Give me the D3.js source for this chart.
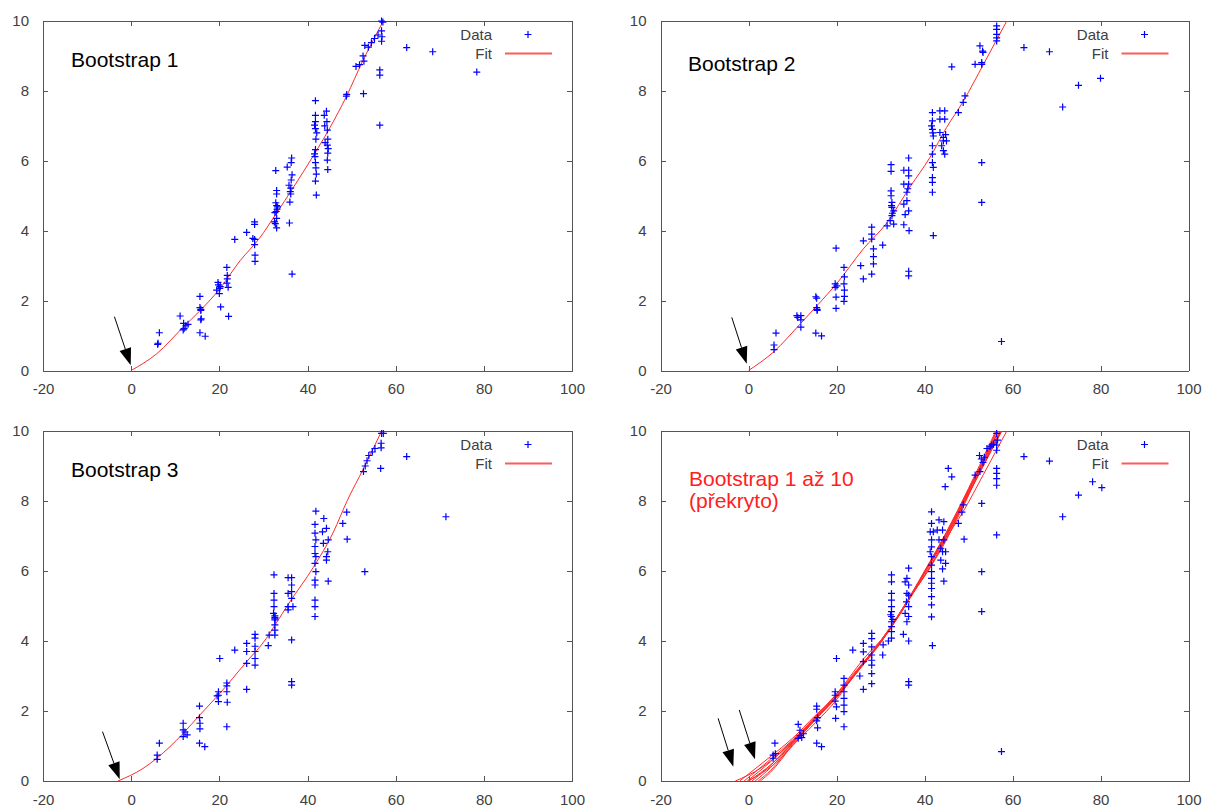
<!DOCTYPE html>
<html>
<head>
  <meta charset="utf-8">
  <title>Bootstrap fits</title>
  <script src="https://d3js.org/d3.v7.min.js"></script>
  <style>
    body { margin: 0; background: #fff; font-family: "Liberation Sans", Arial, sans-serif; }
    .tick text { font-size: 15px; font-family: "Liberation Sans", Arial, sans-serif; }
    .tick line, .domain { stroke: #555; shape-rendering: crispEdges; }
    .legend text { font-size: 15px; }
  </style>
</head>
<body>
  <script>
    // Axis ticks
    var xTicks = [-20, 0, 20, 40, 60, 80, 100];
    var yTicks = [0, 2, 4, 6, 8, 10];

    // Data points of each bootstrap sample [x, y]
    var pts1 = [
      [6.0,0.75],[6.1,0.78],[6.4,1.08],
      [11.1,1.56],[11.9,1.35],[12.4,1.28],[12.9,1.32],[12.0,1.2],[11.8,1.16],
      [15.6,2.12],[15.6,1.8],[15.8,1.75],[15.8,1.72],[15.8,1.45],[15.9,1.48],[15.6,1.08],[16.8,0.98],
      [19.4,2.3],[19.8,2.45],[20.0,2.2],[20.2,2.4],[20.3,1.82],[19.7,2.52],[20.1,2.35],
      [21.7,2.95],[21.8,2.62],[21.7,2.5],[22.0,2.38],[22.1,1.55],[21.8,2.72],
      [23.5,3.75],[26.2,3.95],[28.0,4.25],[28.0,4.18],[28.0,3.75],[28.0,3.6],[28.1,3.3],[28.1,3.12],[27.6,3.78],
      [32.8,5.72],[33.0,5.15],[33.0,5.05],[32.8,4.8],[33.0,4.72],[33.1,4.62],[32.9,4.55],[33.0,4.35],[32.7,4.2],[33.0,4.08],[32.5,4.25],[32.6,4.52],[33.2,4.68],
      [35.4,5.82],[36.4,6.08],[36.3,5.95],[36.3,5.45],[36.2,5.22],[36.1,5.12],[36.0,4.82],[35.9,4.22],[36.5,2.76],[36.2,5.05],[36.5,5.6],[35.8,5.3],
      [41.8,7.72],[41.8,7.12],[41.6,7.02],[41.8,6.92],[41.9,6.62],[41.8,6.32],[41.7,6.12],[41.8,5.95],[41.9,5.8],[42.0,5.62],[41.8,5.42],[42.0,5.02],[42.1,6.8],[41.6,6.2],[41.8,7.3],
      [44.3,7.42],[44.4,7.12],[44.5,6.88],[44.6,6.62],[44.5,6.45],[44.6,6.22],[44.5,6.02],[44.6,5.75],[43.8,7.3],[44.0,6.52],[44.7,6.35],[43.9,7.0],
      [48.9,7.9],[48.8,7.85],
      [52.6,9.0],[51.0,8.7],[52.7,7.92],[53.0,9.3],[53.8,9.25],[54.5,9.38],[55.2,9.5],[56.0,9.6],[51.8,8.75],[52.8,8.85],
      [56.8,10.0],[57.1,9.97],[56.8,9.72],[56.9,9.55],[56.8,9.42],[56.4,8.6],[56.4,8.45],[56.4,7.02],
      [62.5,9.24],[68.4,9.12],[78.4,8.54]
    ];
    var pts2 = [
      [6.25,1.07],[5.8,0.73],[5.8,0.6],
      [11.0,1.57],[11.9,1.57],[11.9,1.45],[11.9,1.24],[11.2,1.52],
      [15.3,2.11],[15.5,2.07],[15.5,1.8],[15.6,1.75],[15.3,1.07],[16.6,0.99],[15.6,1.72],
      [19.9,3.5],[19.7,2.48],[19.7,2.38],[19.9,2.1],[19.9,1.78],[20.1,2.42],
      [21.7,2.95],[21.8,2.68],[21.7,2.48],[21.8,2.3],[21.8,2.12],[21.7,1.98],
      [25.5,3.0],[26.1,2.62],[26.1,3.71],[28.0,4.1],[28.0,3.76],[28.4,3.48],[28.4,3.26],[28.4,3.05],[28.0,2.76],[30.5,3.59],[28.0,3.9],
      [32.4,5.89],[32.4,5.7],[32.4,5.14],[32.4,5.0],[32.6,4.81],[32.6,4.67],[33.0,4.57],[32.6,4.43],[32.2,4.29],[33.0,4.19],[31.5,4.14],[32.5,4.72],[32.7,4.5],
      [36.4,6.08],[35.3,5.73],[36.4,5.73],[36.4,5.57],[35.3,5.33],[36.4,5.33],[36.0,5.1],[36.0,4.86],[35.3,4.76],[36.4,4.57],[35.6,4.46],[35.3,4.17],[36.5,4.0],[36.4,2.84],[36.4,2.71],[36.2,5.2],
      [41.8,7.38],[41.8,7.14],[41.8,6.9],[42.0,6.71],[41.8,6.43],[41.8,6.19],[41.8,5.95],[42.0,5.81],[41.8,5.52],[41.8,5.38],[41.8,5.1],[42.0,3.86],[41.6,7.0],[41.9,6.8],
      [43.5,7.43],[44.6,7.43],[43.5,7.19],[44.6,7.19],[43.5,6.81],[44.3,6.67],[44.3,6.57],[45.0,6.57],[44.3,6.29],[44.6,6.19],[43.9,6.43],[44.8,6.75],
      [47.7,7.38],[48.8,7.67],[49.2,7.86],[46.2,8.69],
      [51.5,8.76],[53.0,8.81],[53.0,8.76],[52.6,9.29],[53.2,9.14],[53.3,9.1],
      [53.0,5.95],[53.0,4.81],
      [56.4,9.86],[56.4,9.76],[56.4,9.62],[56.4,9.52],[56.4,9.43],
      [57.5,0.83],
      [62.6,9.24],[68.4,9.12],[71.4,7.54],[75.0,8.16],[80.0,8.36]
    ];
    var pts3 = [
      [6.4,1.08],[5.9,0.74],[5.9,0.62],
      [11.8,1.65],[11.8,1.46],[12.7,1.32],[11.8,1.27],[12.2,1.4],
      [15.5,2.14],[15.5,1.81],[15.6,1.65],[15.6,1.49],[15.5,1.08],[16.7,0.98],
      [20.1,3.5],[19.8,2.55],[19.8,2.45],[19.8,2.27],[19.5,2.43],[21.7,2.8],[21.7,2.72],[21.7,2.55],[21.8,2.25],[21.7,1.55],
      [23.5,3.74],[26.2,3.93],[26.2,3.7],[26.2,3.36],[26.2,2.62],[28.1,4.19],[28.1,4.08],[28.1,3.85],[28.1,3.7],[28.1,3.5],[28.1,3.31],[31.1,3.87],
      [32.4,5.89],[32.4,5.36],[32.4,5.17],[32.4,4.98],[32.3,4.79],[32.6,4.72],[32.6,4.67],[32.6,4.63],[32.6,4.6],[32.6,4.46],[32.6,4.31],[32.6,4.17],[31.3,4.17],
      [35.6,5.81],[36.4,5.81],[36.4,5.6],[36.4,5.41],[35.6,5.36],[36.4,5.22],[35.6,4.98],[36.7,4.98],[35.6,4.89],[36.4,4.03],[36.4,2.84],[36.4,2.74],
      [41.9,7.71],[41.7,7.33],[41.7,7.08],[41.9,6.89],[41.7,6.7],[41.7,6.5],[41.9,6.41],[41.7,6.22],[41.9,5.98],[41.7,5.74],[41.7,5.6],[41.7,5.17],[41.7,4.98],[41.7,4.7],
      [43.7,7.5],[43.4,7.12],[44.3,7.22],[43.6,6.79],[44.7,6.89],[44.6,6.55],[44.3,6.41],[44.3,6.31],[44.7,5.71],
      [48.9,7.68],[48.0,7.36],[49.0,6.91],
      [53.0,5.98],
      [52.7,8.84],[53.1,9.0],[53.5,9.15],[53.9,9.3],[54.7,9.4],[55.3,9.5],
      [56.8,9.93],[57.2,9.93],[56.7,9.65],[56.7,9.52],[56.6,8.93],
      [62.5,9.27],[71.4,7.55]
    ];
    var pts4 = [
      [6.0,1.08],[5.6,0.74],[5.6,0.65],[6.1,0.78],
      [11.3,1.62],[11.7,1.45],[11.7,1.3],[12.1,1.24],[11.3,1.22],[12.5,1.35],
      [15.5,2.14],[15.5,2.05],[15.7,1.81],[15.5,1.72],[15.7,1.52],[15.5,1.08],[16.6,0.98],
      [20.0,3.5],[19.7,2.55],[19.7,2.45],[19.7,2.28],[20.0,2.12],[19.8,1.79],
      [21.7,2.93],[21.7,2.74],[21.7,2.55],[21.7,2.36],[21.7,2.17],[21.7,1.98],[21.7,1.55],
      [23.7,3.74],[26.1,3.93],[26.1,3.69],[26.1,3.41],[26.1,2.62],[25.3,3.0],
      [28.0,4.22],[28.0,4.07],[28.0,3.83],[28.0,3.6],[28.0,3.45],[28.0,3.31],[28.0,3.07],[28.0,2.78],[30.6,3.89],[30.5,3.6],
      [32.5,5.89],[32.5,5.69],[32.5,5.36],[32.5,5.17],[32.5,4.98],[32.5,4.84],[32.5,4.7],[32.5,4.55],[32.5,4.41],[32.5,4.27],[32.5,4.08],[31.8,4.0],[32.8,4.62],[32.3,4.75],
      [36.4,6.08],[36.0,5.79],[35.6,5.69],[36.4,5.6],[36.0,5.36],[36.4,5.31],[35.9,5.12],[36.4,4.98],[35.6,4.79],[36.4,4.7],[36.0,4.55],[35.2,4.19],[36.4,4.0],[36.4,2.84],[36.4,2.74],
      [41.6,7.69],[41.6,7.36],[41.3,7.12],[42.0,7.12],[41.6,6.89],[41.6,6.69],[41.3,6.55],[41.6,6.41],[41.6,6.17],[41.6,5.98],[41.6,5.79],[41.6,5.65],[41.6,5.5],[41.6,5.27],[41.6,5.03],[41.6,4.69],[41.8,3.87],
      [43.3,7.46],[44.4,7.41],[42.9,7.17],[44.1,7.17],[43.3,6.89],[44.4,6.89],[43.7,6.65],[44.1,6.55],[44.8,6.55],[43.7,6.31],[44.8,6.22],[44.1,6.06],[44.4,5.71],
      [49.0,6.91],[47.7,7.36],[48.5,7.68],[48.8,7.89],[53.0,7.93],
      [44.7,8.41],[45.4,8.93],[46.2,8.69],
      [51.5,8.74],[52.6,8.84],[52.5,9.3],[52.9,9.2],[53.3,9.1],[53.6,9.25],
      [53.0,5.98],[53.0,4.84],
      [54.2,9.5],[54.9,9.55],[55.3,9.6],[55.7,9.62],
      [56.4,9.93],[56.6,9.74],[56.4,9.6],[56.4,9.45],[56.4,8.93],[56.4,8.79],[56.4,8.64],[56.4,8.45],
      [56.4,7.03],
      [57.5,0.84],
      [62.6,9.27],[68.4,9.14],[71.4,7.55],[75.0,8.17],[78.2,8.55],[80.3,8.38]
    ];

    // Fitted curves [x, y]
    var fit1 = [[0,0],[5.8,0.48],[11.8,1.24],[15.6,1.71],[19.8,2.29],[24.7,3.14],[29.2,3.8],[32.6,4.43],[36.8,5.24],[41.3,6.14],[45.1,6.95],[48.9,7.86],[52.5,8.85],[57.2,10]];
    var fit2 = [[0,0],[5.6,0.52],[12.1,1.38],[15.9,1.9],[20,2.48],[26.1,3.48],[31.4,4.22],[36.7,5.25],[41.25,6.1],[45,6.95],[48.8,7.7],[53.4,8.76],[58.7,10]];
    var fit3 = [[-3,0],[2.7,0.36],[8.8,0.98],[11.8,1.36],[15.6,1.89],[19.8,2.46],[26.2,3.41],[30.7,4.08],[32.6,4.45],[36,5.12],[41.3,6.1],[45.9,7.12],[48.9,7.98],[52.7,8.93],[56.4,9.89],[57,10.05]];
    var fit4 = [[-2,0],[5,0.7],[10,1.22],[15,1.85],[20,2.45],[25,3.2],[30,4.0],[35,4.9],[40,5.95],[45,7.0],[50,8.2],[55,9.4],[57.8,10.05]];
    var fit5 = [[-1,0],[5,0.62],[10,1.17],[15,1.8],[20,2.42],[25,3.18],[30,3.98],[35,4.9],[40,5.95],[45,7.02],[50,8.22],[55,9.45],[57.6,10.05]];
    var fit6 = [[0.8,0],[5,0.45],[10,1.1],[15,1.74],[20,2.38],[25,3.15],[30,3.95],[35,4.88],[40,5.95],[45,7.05],[50,8.28],[55,9.55],[57,10.05]];
    var fit7 = [[1.5,0],[5,0.38],[10,1.08],[15,1.75],[20,2.4],[25,3.16],[30,3.97],[35,4.9],[40,5.97],[45,7.08],[50,8.3],[55,9.6],[56.6,10.05]];
    var fit8 = [[2.2,0],[5,0.3],[10,1.05],[15,1.73],[20,2.4],[25,3.17],[30,3.98],[35,4.92],[40,5.98],[45,7.1],[50,8.33],[55,9.62],[56.4,10.0]];
    var fit9 = [[2.7,0],[5,0.25],[10,1.02],[15,1.72],[20,2.42],[25,3.2],[30,4.0],[35,4.93],[40,6.0],[45,7.12],[50,8.36],[55,9.68],[56.2,10.0]];
    var fit10 = [[-0.3,0],[5,0.55],[10,1.15],[15,1.78],[20,2.4],[25,3.16],[30,3.96],[35,4.88],[40,5.93],[45,7.0],[50,8.18],[55,9.4],[57.5,10.0]];

    // Arrows [x1, y1, x2, y2] in data units
    var arrows1 = [[-3.8, 1.54, -0.1, 0.15]];
    var arrows2 = [[-3.8, 1.52, -0.4, 0.19]];
    var arrows3 = [[-6.5, 1.41, -2.6, 0.05]];
    var arrows4 = [[-6.9, 1.79, -3.45, 0.41], [-2.1, 2.03, 1.48, 0.62]];

    var panels = [
      {left: 43, right: 572, top: 21, bottom: 370.5, title: ["Bootstrap 1"], color: "#000", tx: 71, ty: [67],
        pts: pts1, fits: [fit1], arrows: arrows1},
      {left: 660.5, right: 1188.5, top: 21, bottom: 370.5, title: ["Bootstrap 2"], color: "#000", tx: 688, ty: [70.5],
        pts: pts2, fits: [fit2], arrows: arrows2},
      {left: 43, right: 572, top: 431, bottom: 781, title: ["Bootstrap 3"], color: "#000", tx: 71, ty: [477],
        pts: pts3, fits: [fit3], arrows: arrows3},
      {left: 660.5, right: 1188.5, top: 431, bottom: 781, title: ["Bootstrap 1 až 10", "(překryto)"], color: "#ff2020", tx: 689, ty: [486, 508],
        pts: pts4, fits: [fit1, fit2, fit3, fit4, fit5, fit6, fit7, fit8, fit9, fit10], arrows: arrows4}
    ];

    var red = "#ff2a2a", blue = "#0000ff", grey = "#404040";

    function plus(cx, cy) {
      return "M" + (cx - 3.5) + "," + cy + "H" + (cx + 3.5) + "M" + cx + "," + (cy - 3.5) + "V" + (cy + 3.5);
    }

    var svg = d3.select("body").append("svg")
      .attr("width", 1205)
      .attr("height", 809);

    panels.forEach(function(p, i) {
      var x = d3.scaleLinear().domain([-20, 100]).range([p.left, p.right]);
      var y = d3.scaleLinear().domain([0, 10]).range([p.bottom, p.top]);
      var g = svg.append("g");

      g.append("clipPath").attr("id", "clip" + i)
        .append("rect")
        .attr("x", p.left).attr("y", p.top)
        .attr("width", p.right - p.left).attr("height", p.bottom - p.top);

      // frame with inward ticks on all four sides
      g.append("g").attr("transform", "translate(0," + p.bottom + ")")
        .call(d3.axisBottom(x).tickValues(xTicks).tickSize(-5).tickSizeOuter(0).tickPadding(13).tickFormat(function(d) { return String(d); }));
      g.append("g").attr("transform", "translate(0," + p.top + ")")
        .call(d3.axisTop(x).tickValues(xTicks).tickSize(-5).tickSizeOuter(0).tickFormat(""));
      g.append("g").attr("transform", "translate(" + p.left + ",0)")
        .call(d3.axisLeft(y).tickValues(yTicks).tickSize(-5).tickSizeOuter(0).tickPadding(14).tickFormat(function(d) { return String(d); }));
      g.append("g").attr("transform", "translate(" + p.right + ",0)")
        .call(d3.axisRight(y).tickValues(yTicks).tickSize(-5).tickSizeOuter(0).tickFormat(""));
      g.selectAll(".tick text").attr("fill", grey);

      // title
      p.title.forEach(function(s, k) {
        g.append("text")
          .attr("x", p.tx).attr("y", p.ty[k])
          .style("font-size", "21px")
          .attr("fill", p.color)
          .text(s);
      });

      // fitted curves
      var line = d3.line()
        .curve(d3.curveMonotoneX)
        .x(function(d) { return x(d[0]); })
        .y(function(d) { return y(d[1]); });
      g.append("g").attr("clip-path", "url(#clip" + i + ")")
        .selectAll("path").data(p.fits).enter().append("path")
        .attr("fill", "none")
        .attr("stroke", red)
        .attr("stroke-width", 1)
        .attr("d", line);

      // data points
      g.append("g").selectAll("path").data(p.pts).enter().append("path")
        .attr("fill", "none")
        .attr("stroke", blue)
        .attr("stroke-width", 1.2)
        .attr("d", function(d) { return plus(x(d[0]), y(d[1])); });

      // arrows
      p.arrows.forEach(function(a) {
        var x1 = x(a[0]), y1 = y(a[1]), x2 = x(a[2]), y2 = y(a[3]);
        var dx = x2 - x1, dy = y2 - y1, L = Math.sqrt(dx * dx + dy * dy);
        var ux = dx / L, uy = dy / L;
        var bx = x2 - ux * 17, by = y2 - uy * 17;
        g.append("line")
          .attr("x1", x1).attr("y1", y1).attr("x2", bx).attr("y2", by)
          .attr("stroke", "#000").attr("stroke-width", 1);
        g.append("path")
          .attr("d", "M" + x2 + "," + y2 + "L" + (bx - uy * 6) + "," + (by + ux * 6) + "L" + (bx + uy * 6) + "," + (by - ux * 6) + "Z")
          .attr("fill", "#000");
      });

      // legend
      var lg = g.append("g").attr("class", "legend");
      lg.append("text").attr("x", p.right - 80).attr("y", p.top + 18.5).attr("text-anchor", "end").attr("fill", grey).text("Data");
      lg.append("text").attr("x", p.right - 80).attr("y", p.top + 37.5).attr("text-anchor", "end").attr("fill", grey).text("Fit");
      lg.append("path")
        .attr("fill", "none").attr("stroke", blue).attr("stroke-width", 1.2)
        .attr("d", plus(p.right - 44, p.top + 13.5));
      lg.append("rect")
        .attr("fill", "#ff5a5a")
        .attr("x", p.right - 67).attr("width", 47)
        .attr("y", p.top + 31.5).attr("height", 2);
    });
  </script>
</body>
</html>
